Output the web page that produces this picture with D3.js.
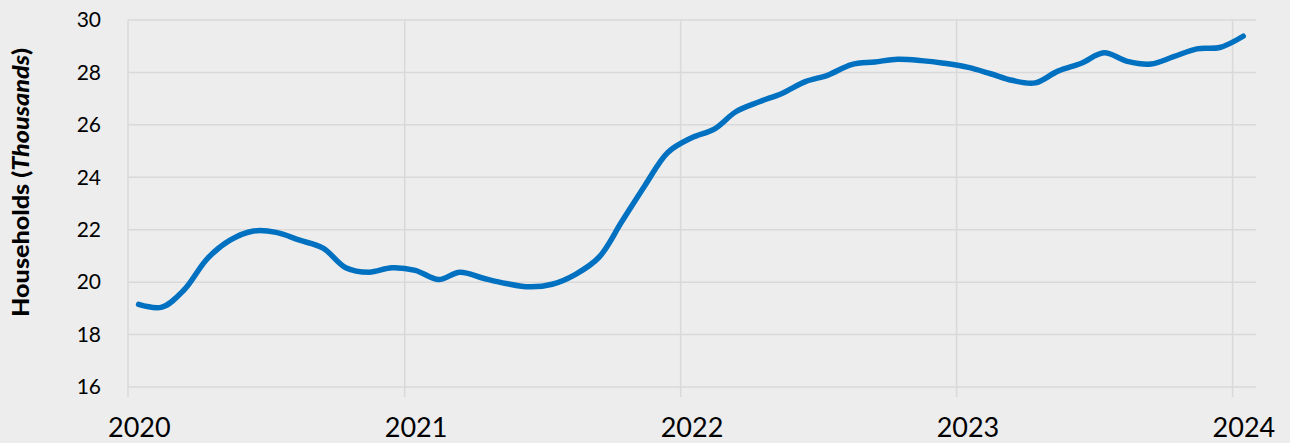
<!DOCTYPE html>
<html>
<head>
<meta charset="utf-8">
<script src="https://cdn.jsdelivr.net/npm/d3@7"></script>
<style>
  html, body { margin: 0; padding: 0; background: #ededed; }
  svg { display: block; }
</style>
</head>
<body>
<svg id="chart" width="1290" height="443"></svg>
<script>
// Monthly data, Jan 2020 – Jan 2024 (households, thousands)
const months = [
  "2020-01","2020-02","2020-03","2020-04","2020-05","2020-06","2020-07","2020-08","2020-09","2020-10","2020-11","2020-12",
  "2021-01","2021-02","2021-03","2021-04","2021-05","2021-06","2021-07","2021-08","2021-09","2021-10","2021-11","2021-12",
  "2022-01","2022-02","2022-03","2022-04","2022-05","2022-06","2022-07","2022-08","2022-09","2022-10","2022-11","2022-12",
  "2023-01","2023-02","2023-03","2023-04","2023-05","2023-06","2023-07","2023-08","2023-09","2023-10","2023-11","2023-12",
  "2024-01"
];
const households = [
  19.15, 19.05, 19.7, 20.9, 21.6, 21.95, 21.9, 21.6, 21.3, 20.55, 20.38, 20.55,
  20.45, 20.1, 20.38, 20.15, 19.95, 19.82, 19.92, 20.3, 20.95, 22.3, 23.7, 24.95,
  25.5, 25.85, 26.5, 26.88, 27.2, 27.65, 27.9, 28.3, 28.4, 28.5, 28.45, 28.35,
  28.2, 27.95, 27.7, 27.6, 28.05, 28.35, 28.75, 28.42, 28.32, 28.6, 28.9, 28.95,
  29.38
];
const yTicks = [16, 18, 20, 22, 24, 26, 28, 30];
const yearTicks = [2020, 2021, 2022, 2023, 2024];
const yTitleMain = "Households (";
const yTitleItalic = "Thousands";
const yTitleEnd = ")";

const svg = d3.select("#chart");
const W = 1290, H = 443;
const plot = { left: 128, right: 1256, top: 20, bottom: 387 };

const parseMonth = s => { const [y, m] = s.split("-").map(Number); return new Date(y, m - 1, 15); };
const data = months.map((m, i) => ({ date: parseMonth(m), value: households[i] }));

const x = d3.scaleTime()
  .domain([new Date(2020, 0, 1), new Date(2024, 1, 1)])
  .range([plot.left, plot.right]);
const y = d3.scaleLinear()
  .domain([16, 30])
  .range([plot.bottom, plot.top]);

svg.append("rect").attr("width", W).attr("height", H).attr("fill", "#ededed");

const grid = "#d9d9d9";
// horizontal gridlines
svg.append("g").selectAll("line").data(yTicks).join("line")
  .attr("x1", plot.left).attr("x2", plot.right)
  .attr("y1", d => y(d)).attr("y2", d => y(d))
  .attr("stroke", grid).attr("stroke-width", 1.5);

// vertical gridlines (year boundaries), extending slightly below axis as ticks
svg.append("g").selectAll("line").data(yearTicks).join("line")
  .attr("x1", d => x(new Date(d, 0, 1))).attr("x2", d => x(new Date(d, 0, 1)))
  .attr("y1", plot.top).attr("y2", plot.bottom + 10)
  .attr("stroke", grid).attr("stroke-width", 1.5);

// y tick labels
svg.append("g").selectAll("text").data(yTicks).join("text")
  .attr("x", 101).attr("y", d => y(d))
  .attr("dy", "0.35em")
  .attr("text-anchor", "end")
  .attr("font-family", "Lato, 'Open Sans', sans-serif")
  .attr("font-size", 21)
  .attr("fill", "#000")
  .text(d => d);

// x tick labels (centered mid-January)
svg.append("g").selectAll("text").data(yearTicks).join("text")
  .attr("x", d => x(new Date(d, 0, 16)))
  .attr("y", 437)
  .attr("text-anchor", "middle")
  .attr("font-family", "Lato, 'Open Sans', sans-serif")
  .attr("font-size", 27)
  .attr("fill", "#000")
  .text(d => d);

// y axis title
const title = svg.append("text")
  .attr("transform", `translate(29,${182.5}) rotate(-90)`)
  .attr("text-anchor", "middle")
  .attr("font-family", "Lato, 'Open Sans', sans-serif")
  .attr("font-size", 22)
  .attr("font-weight", 900)
  .attr("textLength", 269)
  .attr("lengthAdjust", "spacingAndGlyphs")
  .attr("fill", "#000");
title.append("tspan").text(yTitleMain);
title.append("tspan").attr("font-style", "italic").text(yTitleItalic);
title.append("tspan").text(yTitleEnd);

// line
const line = d3.line()
  .x(d => x(d.date))
  .y(d => y(d.value))
  .curve(d3.curveCatmullRom.alpha(0.5));

svg.append("path")
  .datum(data)
  .attr("fill", "none")
  .attr("stroke", "#0070c0")
  .attr("stroke-width", 5.5)
  .attr("stroke-linecap", "round")
  .attr("stroke-linejoin", "round")
  .attr("d", line);
</script>
</body>
</html>
